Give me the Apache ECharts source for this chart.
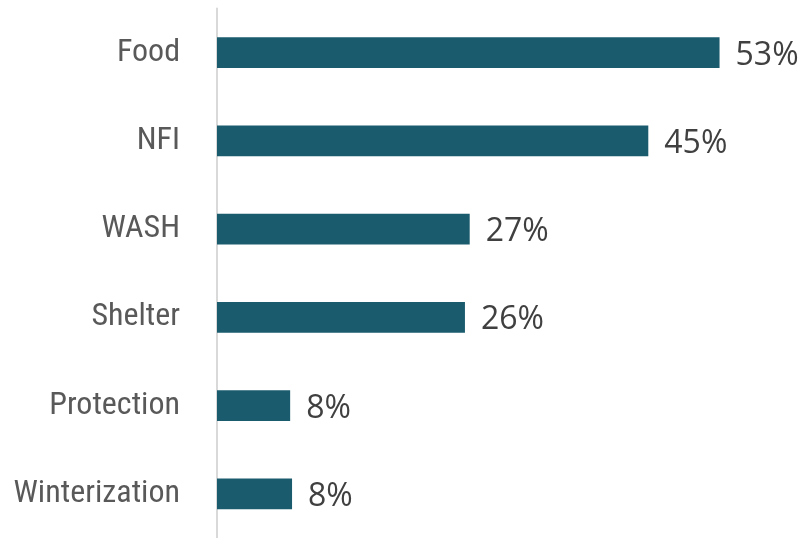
<!DOCTYPE html>
<html>
<head>
<meta charset="utf-8">
<script src="https://cdn.jsdelivr.net/npm/echarts@6/dist/echarts.min.js"></script>
<style>
  html, body { margin: 0; padding: 0; background: #fff; }
  #chart { width: 805px; height: 538px; }
</style>
</head>
<body>
<div id="chart"></div>
<script>
const categories = ['Food', 'NFI', 'WASH', 'Shelter', 'Protection', 'Winterization']
const shares = [52.9, 45.4, 26.6, 26.1, 7.7, 7.9]

const chart = echarts.init(document.getElementById('chart'))

chart.setOption({
  animation: false,
  grid: { left: 217, right: 18, top: 8.5, bottom: -4 },
  xAxis: {
    type: 'value',
    min: 0,
    max: 60,
    show: false,
  },
  yAxis: {
    type: 'category',
    data: categories,
    inverse: true,
    axisTick: { show: false },
    axisLine: { lineStyle: { color: '#d9d9d9', width: 2 } },
    axisLabel: {
      margin: 37,
      color: '#595959',
      fontSize: 32,
      fontFamily: "'Roboto Condensed', 'Liberation Sans Narrow', 'DejaVu Sans Condensed', Roboto, sans-serif",
    },
  },
  series: [
    {
      type: 'bar',
      data: shares,
      barWidth: '35%',
      itemStyle: { color: '#1a5b6e' },
      label: {
        show: true,
        position: 'right',
        distance: 16,
        offset: [0, 3],
        color: '#404040',
        fontSize: 32,
        fontFamily: "'Open Sans', sans-serif",
        formatter: (p) => `${Math.round(p.value)}%`,
      },
    },
  ],
})
</script>
</body>
</html>
